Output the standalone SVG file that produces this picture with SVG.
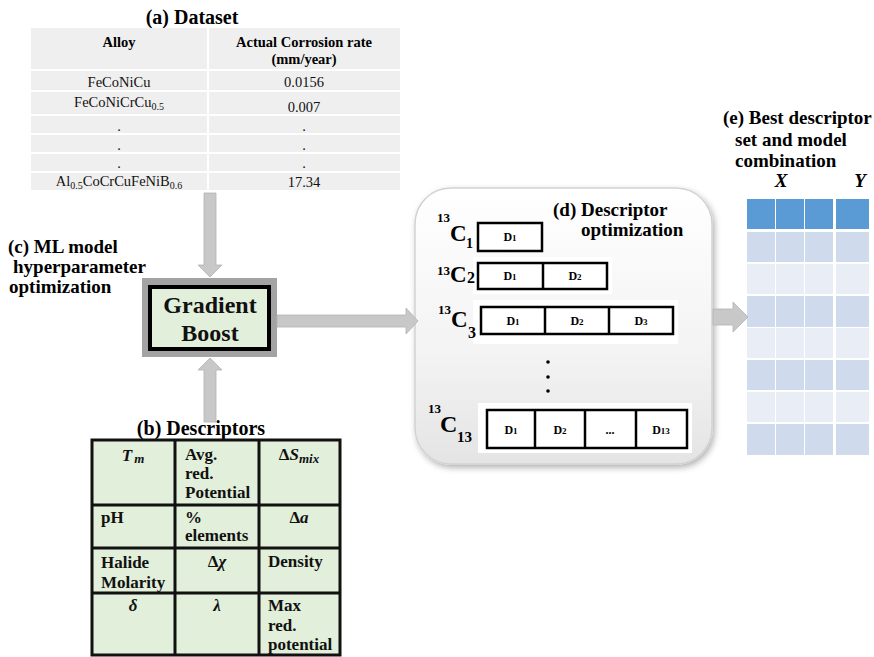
<svg xmlns="http://www.w3.org/2000/svg" width="874" height="657" viewBox="0 0 874 657">
<defs>
<linearGradient id="panelGrad" x1="0" y1="0" x2="0" y2="1">
<stop offset="0" stop-color="#ffffff"/>
<stop offset="0.6" stop-color="#f3f3f3"/>
<stop offset="1" stop-color="#e4e4e4"/>
</linearGradient>
<filter id="shadow" x="-10%" y="-10%" width="120%" height="120%">
<feDropShadow dx="2" dy="3" stdDeviation="3" flood-color="#000000" flood-opacity="0.3"/>
</filter>
</defs>
<style>
.title{font-family:"Liberation Serif","Times New Roman",serif;font-weight:bold;fill:#000}
.hdr{font-family:"Liberation Serif","Times New Roman",serif;font-weight:bold;font-size:14.5px;fill:#000}
.cell{font-family:"Liberation Serif","Times New Roman",serif;font-size:14.5px;fill:#111}
.desc{font-family:"Liberation Serif","Times New Roman",serif;font-weight:bold;font-size:17px;fill:#111}
.sym{font-family:"Liberation Serif","Times New Roman",serif;font-weight:bold;font-style:italic;font-size:17px;fill:#111}
.dlab{font-family:"Liberation Serif","Times New Roman",serif;font-weight:bold;font-size:12px;fill:#000}
.clab{font-family:"Liberation Serif","Times New Roman",serif;font-weight:bold;fill:#000}
.gb{font-family:"Liberation Serif","Times New Roman",serif;font-weight:bold;font-size:24px;fill:#111}
.arrow{fill:#c8c8c8;stroke:#b3b3b3;stroke-width:0.8}
.dbox{fill:#ffffff;stroke:#000;stroke-width:2.5}
.dline{stroke:#000;stroke-width:2.5}
.grid{stroke:#111;stroke-width:3;fill:none}
.wl{stroke:#ffffff;stroke-width:2}
</style>
<rect width="874" height="657" fill="#ffffff"/>

<g id="dataset">
<text class="title" x="192" y="24" font-size="20" text-anchor="middle">(a) Dataset</text>
<rect x="31" y="28" width="369" height="162" fill="#efefef"/>
<line class="wl" x1="208" y1="28" x2="208" y2="190"/>
<line class="wl" x1="31" y1="70" x2="400" y2="70"/>
<line class="wl" x1="31" y1="91" x2="400" y2="91"/>
<line class="wl" x1="31" y1="115" x2="400" y2="115"/>
<line class="wl" x1="31" y1="134" x2="400" y2="134"/>
<line class="wl" x1="31" y1="153" x2="400" y2="153"/>
<line class="wl" x1="31" y1="172" x2="400" y2="172"/>
<text class="hdr" x="119" y="47" text-anchor="middle">Alloy</text>
<text class="hdr" x="304" y="47" text-anchor="middle">Actual Corrosion rate</text>
<text class="hdr" x="304" y="64" text-anchor="middle">(mm/year)</text>
<text class="cell" x="119" y="87" text-anchor="middle">FeCoNiCu</text>
<text class="cell" x="304" y="87" text-anchor="middle">0.0156</text>
<text class="cell" x="119" y="107" text-anchor="middle">FeCoNiCrCu<tspan font-size="10" dy="3">0.5</tspan></text>
<text class="cell" x="304" y="112" text-anchor="middle">0.007</text>
<text class="cell" x="119" y="131" text-anchor="middle">.</text>
<text class="cell" x="304" y="131" text-anchor="middle">.</text>
<text class="cell" x="119" y="150" text-anchor="middle">.</text>
<text class="cell" x="304" y="150" text-anchor="middle">.</text>
<text class="cell" x="119" y="168" text-anchor="middle">.</text>
<text class="cell" x="304" y="168" text-anchor="middle">.</text>
<text class="cell" x="119" y="186" text-anchor="middle">Al<tspan font-size="10" dy="3">0.5</tspan><tspan dy="-3">CoCrCuFeNiB</tspan><tspan font-size="10" dy="3">0.6</tspan></text>
<text class="cell" x="304" y="187" text-anchor="middle">17.34</text>
</g>

<g id="label-c">
<text class="title" font-size="19" x="8" y="253">(c) ML model</text>
<text class="title" font-size="19" x="13" y="273">hyperparameter</text>
<text class="title" font-size="19" x="9" y="293">optimization</text>
</g>

<g id="gradient-boost">
<rect x="142" y="278" width="135" height="79" fill="#a3a3a3"/>
<rect x="150" y="287" width="119" height="62" fill="#e2efda" stroke="#000" stroke-width="4"/>
<text class="gb" x="210" y="313" text-anchor="middle">Gradient</text>
<text class="gb" x="210" y="341" text-anchor="middle">Boost</text>
</g>

<g id="descriptors">
<text class="title" font-size="20" x="201" y="435" text-anchor="middle">(b) Descriptors</text>
<rect x="92" y="440" width="248" height="215" fill="#e2efda"/>
<rect class="grid" x="92" y="440" width="248" height="215"/>
<line class="grid" x1="175" y1="440" x2="175" y2="655"/>
<line class="grid" x1="259" y1="440" x2="259" y2="655"/>
<line class="grid" x1="92" y1="505" x2="340" y2="505"/>
<line class="grid" x1="92" y1="548" x2="340" y2="548"/>
<line class="grid" x1="92" y1="593" x2="340" y2="593"/>
<text class="sym" x="133" y="461" text-anchor="middle">T<tspan font-size="13" dy="2" dx="2">m</tspan></text>
<text class="desc" x="185" y="460">Avg.</text>
<text class="desc" x="185" y="479">red.</text>
<text class="desc" x="185" y="498">Potential</text>
<text class="sym" x="299" y="460" text-anchor="middle"><tspan font-style="normal">Δ</tspan>S<tspan font-size="13" dy="3">mix</tspan></text>
<text class="desc" x="101" y="523">pH</text>
<text class="desc" x="185" y="523">%</text>
<text class="desc" x="185" y="541">elements</text>
<text class="sym" x="299" y="523" text-anchor="middle"><tspan font-style="normal">Δ</tspan>a</text>
<text class="desc" x="101" y="568">Halide</text>
<text class="desc" x="101" y="588">Molarity</text>
<text class="sym" x="217" y="567" text-anchor="middle"><tspan font-style="normal">Δ</tspan>χ</text>
<text class="desc" x="268" y="567">Density</text>
<text class="sym" x="133" y="611" text-anchor="middle">δ</text>
<text class="sym" x="217" y="611" text-anchor="middle">λ</text>
<text class="desc" x="268" y="611">Max</text>
<text class="desc" x="268" y="631">red.</text>
<text class="desc" x="268" y="650">potential</text>
</g>

<g id="descriptor-optimization">
<rect x="415" y="188" width="297" height="276" rx="36" ry="36" fill="url(#panelGrad)" stroke="#d2d2d2" stroke-width="1.5" filter="url(#shadow)"/>
<text class="title" font-size="19" x="553" y="216">(d) Descriptor</text>
<text class="title" font-size="19" x="581" y="236">optimization</text>
<g id="c1">
<text class="clab" font-size="13" x="437" y="222">13</text>
<text class="clab" font-size="23" x="450" y="241">C</text>
<text class="clab" font-size="14" x="466" y="248">1</text>
<rect class="dbox" x="478" y="223" width="64" height="28"/>
<text class="dlab" x="510" y="241" text-anchor="middle">D<tspan font-size="9">1</tspan></text>
</g>
<g id="c2">
<rect x="473" y="257" width="139" height="37" fill="#ffffff"/>
<text class="clab" font-size="13" x="437" y="275">13</text>
<text class="clab" font-size="23" x="450" y="282">C</text>
<text class="clab" font-size="16" x="467" y="283">2</text>
<rect class="dbox" x="478" y="263" width="129" height="26"/>
<line class="dline" x1="543" y1="263" x2="543" y2="289"/>
<text class="dlab" x="510" y="280" text-anchor="middle">D<tspan font-size="9">1</tspan></text>
<text class="dlab" x="575" y="280" text-anchor="middle">D<tspan font-size="9">2</tspan></text>
</g>
<g id="c3">
<rect x="473" y="300" width="205" height="44" fill="#ffffff"/>
<text class="clab" font-size="13" x="438" y="314">13</text>
<text class="clab" font-size="23" x="451" y="327">C</text>
<text class="clab" font-size="16" x="468" y="338">3</text>
<rect class="dbox" x="481" y="307" width="192" height="27"/>
<line class="dline" x1="545" y1="307" x2="545" y2="334"/>
<line class="dline" x1="609" y1="307" x2="609" y2="334"/>
<text class="dlab" x="513" y="325" text-anchor="middle">D<tspan font-size="9">1</tspan></text>
<text class="dlab" x="577" y="325" text-anchor="middle">D<tspan font-size="9">2</tspan></text>
<text class="dlab" x="641" y="325" text-anchor="middle">D<tspan font-size="9">3</tspan></text>
</g>
<circle cx="548" cy="362" r="1.8" fill="#000"/>
<circle cx="548" cy="377" r="1.8" fill="#000"/>
<circle cx="548" cy="391" r="1.8" fill="#000"/>
<g id="c13">
<rect x="478" y="403" width="214" height="50" fill="#ffffff"/>
<text class="clab" font-size="13" x="428" y="413">13</text>
<text class="clab" font-size="24" x="440" y="432">C</text>
<text class="clab" font-size="15" x="457" y="442">13</text>
<rect class="dbox" x="487" y="410" width="200" height="38"/>
<line class="dline" x1="535" y1="410" x2="535" y2="448"/>
<line class="dline" x1="585" y1="410" x2="585" y2="448"/>
<line class="dline" x1="636" y1="410" x2="636" y2="448"/>
<text class="dlab" x="511" y="434" text-anchor="middle">D<tspan font-size="9">1</tspan></text>
<text class="dlab" x="560" y="434" text-anchor="middle">D<tspan font-size="9">2</tspan></text>
<text class="dlab" x="610" y="434" text-anchor="middle">...</text>
<text class="dlab" x="661" y="434" text-anchor="middle">D<tspan font-size="9">13</tspan></text>
</g>
</g>

<g id="best-combination">
<text class="title" font-size="19" x="723" y="124">(e) Best descriptor</text>
<text class="title" font-size="19" x="735" y="146">set and model</text>
<text class="title" font-size="19" x="735" y="167">combination</text>
<text class="title" font-size="19" font-style="italic" x="781" y="187" text-anchor="middle">X</text>
<text class="title" font-size="19" font-style="italic" x="860" y="187" text-anchor="middle">Y</text>
<g fill="#5b9bd5">
<rect x="747" y="199" width="28" height="30"/><rect x="776" y="199" width="28" height="30"/><rect x="805" y="199" width="28" height="30"/><rect x="836" y="199" width="33" height="30"/>
</g>
<g fill="#cfdaed">
<rect x="747" y="232" width="28" height="30"/><rect x="776" y="232" width="28" height="30"/><rect x="805" y="232" width="28" height="30"/><rect x="836" y="232" width="33" height="30"/>
<rect x="747" y="296" width="28" height="31"/><rect x="776" y="296" width="28" height="31"/><rect x="805" y="296" width="28" height="31"/><rect x="836" y="296" width="33" height="31"/>
<rect x="747" y="360" width="28" height="30"/><rect x="776" y="360" width="28" height="30"/><rect x="805" y="360" width="28" height="30"/><rect x="836" y="360" width="33" height="30"/>
<rect x="747" y="424" width="28" height="31"/><rect x="776" y="424" width="28" height="31"/><rect x="805" y="424" width="28" height="31"/><rect x="836" y="424" width="33" height="31"/>
</g>
<g fill="#e9edf6">
<rect x="747" y="264" width="28" height="30"/><rect x="776" y="264" width="28" height="30"/><rect x="805" y="264" width="28" height="30"/><rect x="836" y="264" width="33" height="30"/>
<rect x="747" y="328" width="28" height="30"/><rect x="776" y="328" width="28" height="30"/><rect x="805" y="328" width="28" height="30"/><rect x="836" y="328" width="33" height="30"/>
<rect x="747" y="392" width="28" height="30"/><rect x="776" y="392" width="28" height="30"/><rect x="805" y="392" width="28" height="30"/><rect x="836" y="392" width="33" height="30"/>
</g>
</g>

<g id="connectors">
<polygon class="arrow" points="204,193 216,193 216,265 222,265 210,277 198,265 204,265"/>
<polygon class="arrow" points="204,422 216,422 216,370 222,370 210,358 198,370 204,370"/>
<polygon class="arrow" points="277,315 406,315 406,308 418,321 406,334 406,327 277,327"/>
<polygon class="arrow" points="713,309 733,309 733,302 748,317 733,332 733,325 713,325"/>
</g>
</svg>
